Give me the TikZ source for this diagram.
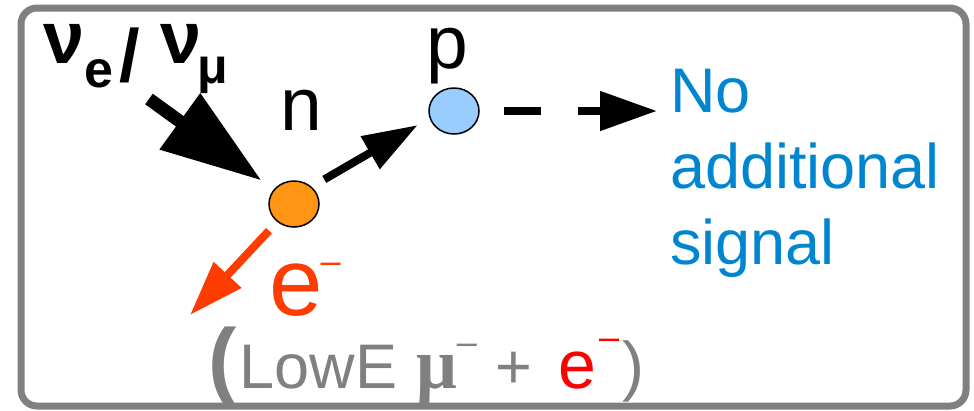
\documentclass[tikz,border=0pt]{standalone}
\usepackage{fontspec}
\setmainfont{Liberation Sans}
\newfontfamily\serifgreek{Liberation Serif}
\usetikzlibrary{positioning, arrows.meta, shapes.geometric}
\definecolor{FrameGray}{HTML}{808080}
\definecolor{NOrange}{HTML}{FF9512}
\definecolor{PBlue}{HTML}{99CCFF}
\definecolor{SignalBlue}{HTML}{0086D1}
\definecolor{ERed}{HTML}{FF3C00}
\definecolor{PureRed}{HTML}{FF0000}
\newcommand{\fsz}[1]{\fontsize{#1}{#1}\selectfont}

\begin{document}
\begin{tikzpicture}[x=1pt, y=-1pt,
    particle/.style={ellipse, draw=black, line width=1.5pt, minimum width=50pt, minimum height=46pt, inner sep=0pt},
    partlabel/.style={inner sep=0pt, font=\fsz{75}},
    nulabel/.style={inner sep=0pt, font=\fsz{74}\bfseries},
    sigtext/.style={inner sep=0pt, text=SignalBlue, align=left, font=\fontsize{63}{76}\selectfont},
    bottomtext/.style={inner sep=0pt, text=FrameGray, font=\fsz{63}},
    arrow/.style={-{Triangle[length=55pt, width=36pt]}, line width=8pt},
    bigarrow/.style={-{Triangle[length=101pt, width=66pt]}, line width=13pt},
    dasharrow/.style={line width=8pt, -{Triangle[length=57pt, width=38pt]}, dash pattern=on 37pt off 37pt},
    earrow/.style={arrow, ERed}
]
\useasboundingbox (0,0) rectangle (974,410);
\draw[FrameGray, line width=7pt, rounded corners=16pt] (21,8) rectangle (966,406);

\node[particle, fill=NOrange] (n) at (294,204) {};
\node[particle, fill=PBlue] (p) at (454,111) {};
\node[partlabel, anchor=base] (nlab) at (301.5,130) {n};
\node[partlabel, anchor=base] (plab) at (447.5,68) {p};

\node[nulabel, anchor=base west] (nu) at (43,63) {ν\raisebox{-24pt}{\fsz{52}e}\kern6pt\raisebox{-18pt}{/}\kern21pt ν\kern-4pt\raisebox{-20pt}{\fsz{50}μ}};
\coordinate (nuin) at (149,99);

\node[sigtext, anchor=base west] (nosig) at (670,264) {No\\additional\\signal};

\node[inner sep=0pt, anchor=base west, text=ERed, font=\fsz{96}] (elab) at (269,315) {e\kern-2pt\raisebox{41.8pt}{\fsz{36}–}};
\coordinate (etip) at (190,315);

\node[bottomtext, anchor=base west] (lowe) at (208,388) {{\fsz{85}\bfseries(}\kern3pt LowE\kern19pt{\serifgreek\bfseries\fsz{72}μ}\raisebox{33.3pt}{\fsz{36}–}\kern19pt+\kern25.5pt{\color{PureRed}\fsz{68}e\kern3pt\raisebox{38.3pt}{\fsz{36}–}}\kern3pt{\fsz{66})}};

\draw[bigarrow, shorten >=15pt] (nuin) -- (n);
\draw[arrow, shorten <=35pt, shorten >=42pt] ([yshift=7pt]n.center) -- ([yshift=7pt]p.center);
\draw[dasharrow, shorten <=24pt, shorten >=13pt] (p.east) -- (p.east -| nosig.west);
\draw[earrow, shorten <=12pt] (n) -- (etip);

\end{tikzpicture}
\end{document}
